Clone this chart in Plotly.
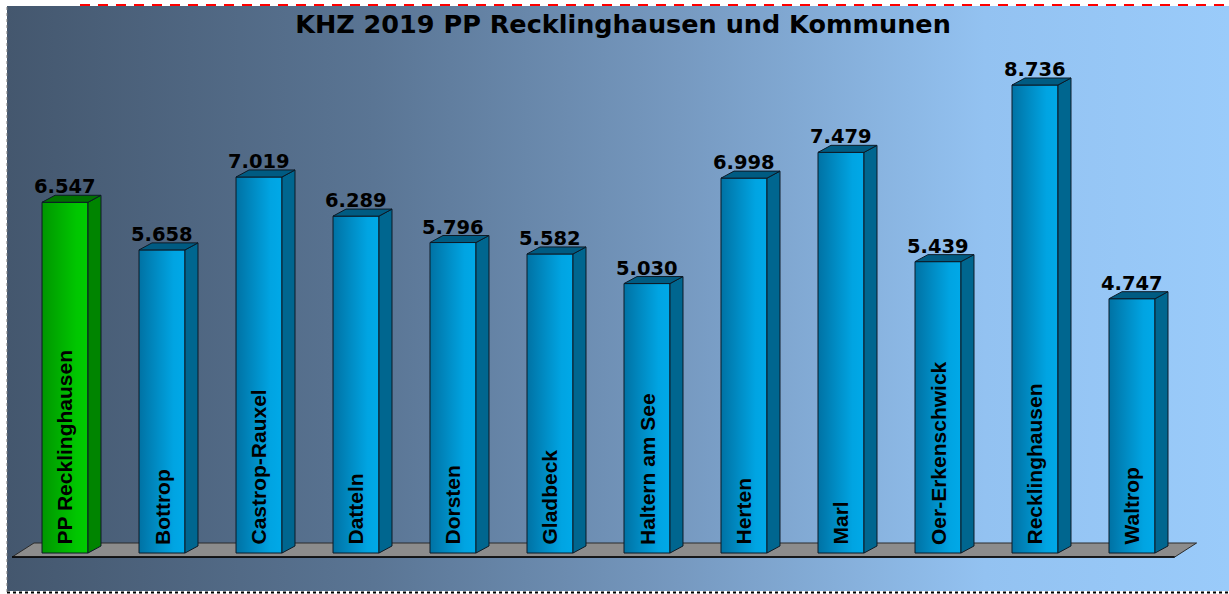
import plotly.graph_objects as go

# --- data ---
title = "KHZ 2019 PP Recklinghausen und Kommunen"
kommunen = ["PP Recklinghausen", "Bottrop", "Castrop-Rauxel", "Datteln", "Dorsten", "Gladbeck",
            "Haltern am See", "Herten", "Marl", "Oer-Erkenschwick", "Recklinghausen", "Waltrop"]
khz = [6547, 5658, 7019, 6289, 5796, 5582, 5030, 6998, 7479, 5439, 8736, 4747]

# --- style ---
W, H = 1229, 594
x_range = [-0.598, 12.0]
y_range = [-709, 10211]
half = 0.237          # halbe Balkenbreite (Kategorie-Einheiten)
dx, dy = 0.134, 131   # 3D-Tiefe
edge = "#0d1a26"

bg_scale = [[0, "#44576e"], [0.3, "#5a7594"], [0.55, "#7699c0"], [0.8, "#93c2f1"], [1, "#9acbfa"]]
blue = dict(front=[[0, "#0072a4"], [0.75, "#00a4e2"], [1, "#00a9e8"]], side="#00668f", top="#005b82")
green = dict(front=[[0, "#009600"], [0.75, "#00c600"], [1, "#00cc00"]], side="#008400", top="#007000")

fig = go.Figure()

# Hintergrund mit Verlauf
fig.add_trace(go.Scatter(
    x=[x_range[0], x_range[1], x_range[1], x_range[0], x_range[0]],
    y=[y_range[0], y_range[0], y_range[1], y_range[1], y_range[0]],
    fill="toself", mode="none",
    fillgradient=dict(type="horizontal", colorscale=bg_scale, start=x_range[0], stop=x_range[1]),
    hoverinfo="skip", showlegend=False,
))

# Boden
n = len(kommunen)
fl, fr = -0.546, n - 1 + 0.44
fy, by, bdx = -75, 187, 0.226
fig.add_trace(go.Scatter(
    x=[fl, fr, fr + bdx, fl + bdx, fl], y=[fy, fy, by, by, fy],
    fill="toself", fillcolor="#8c8c8c", mode="lines",
    line=dict(color="#2a2a2a", width=1), hoverinfo="skip", showlegend=False,
))
fig.add_trace(go.Scatter(
    x=[fl, fr], y=[fy, fy], mode="lines", line=dict(color="#000000", width=1.5),
    hoverinfo="skip", showlegend=False,
))

# 3D-Balken
for i, (name, v) in enumerate(zip(kommunen, khz)):
    c = green if i == 0 else blue
    # Vorderseite
    fig.add_trace(go.Scatter(
        x=[i - half, i + half, i + half, i - half, i - half], y=[0, 0, v, v, 0],
        fill="toself", mode="lines", line=dict(color=edge, width=1),
        fillgradient=dict(type="horizontal", colorscale=c["front"]),
        hovertemplate=f"{name}: {v:,}".replace(",", ".") + "<extra></extra>", showlegend=False,
    ))
    # Seite
    fig.add_trace(go.Scatter(
        x=[i + half, i + half + dx, i + half + dx, i + half, i + half], y=[0, dy, v + dy, v, 0],
        fill="toself", fillcolor=c["side"], mode="lines", line=dict(color=edge, width=1),
        hoverinfo="skip", showlegend=False,
    ))
    # Deckel
    fig.add_trace(go.Scatter(
        x=[i - half, i + half, i + half + dx, i - half + dx, i - half], y=[v, v, v + dy, v + dy, v],
        fill="toself", fillcolor=c["top"], mode="lines", line=dict(color=edge, width=1),
        hoverinfo="skip", showlegend=False,
    ))
    fig.add_annotation(
        x=i, y=v + dy, text=f"<b>{v:,}</b>".replace(",", "."), showarrow=False,
        xanchor="center", yanchor="bottom", yshift=-5,
        font=dict(family="DejaVu Sans", size=19.5, color="#000000"),
    )
    fig.add_annotation(
        x=i, y=0, text=f"<b>{name}</b>", showarrow=False, textangle=-90,
        xanchor="center", yanchor="bottom", yshift=6,
        font=dict(family="Liberation Sans, Arial", size=21, color="#000000"),
    )

# Rahmenlinien
ph = H - 6 - 3
fig.add_shape(type="line", xref="paper", yref="paper", x0=0, x1=0, y0=-1 / ph, y1=1,
              line=dict(color="#7a7a7a", width=1, dash="dot"))
fig.add_shape(type="line", xref="paper", yref="paper", x0=0, x1=1, y0=-1.5 / ph, y1=-1.5 / ph,
              line=dict(color="#000000", width=2, dash="dot"))
fig.add_shape(type="line", xref="paper", yref="paper", x0=73 / (W - 7), x1=1, y0=1 + 1 / ph, y1=1 + 1 / ph,
              line=dict(color="#ff0000", width=2, dash="10px,8px"))

fig.update_xaxes(range=x_range, visible=False, fixedrange=True)
fig.update_yaxes(range=y_range, visible=False, fixedrange=True)
fig.update_layout(
    width=W, height=H,
    margin=dict(l=7, r=0, t=6, b=3),
    paper_bgcolor="#ffffff", plot_bgcolor="#ffffff",
    showlegend=False,
    title=dict(text=f"<b>{title}</b>", x=619.5 / W, xanchor="center", xref="paper",
               y=1 - 24 / H, yanchor="middle", yref="container",
               font=dict(family="DejaVu Sans", size=25.5, color="#000000")),
)

fig.write_html("out.html", config={"displayModeBar": False},
               post_script="document.body.style.margin='0';")
